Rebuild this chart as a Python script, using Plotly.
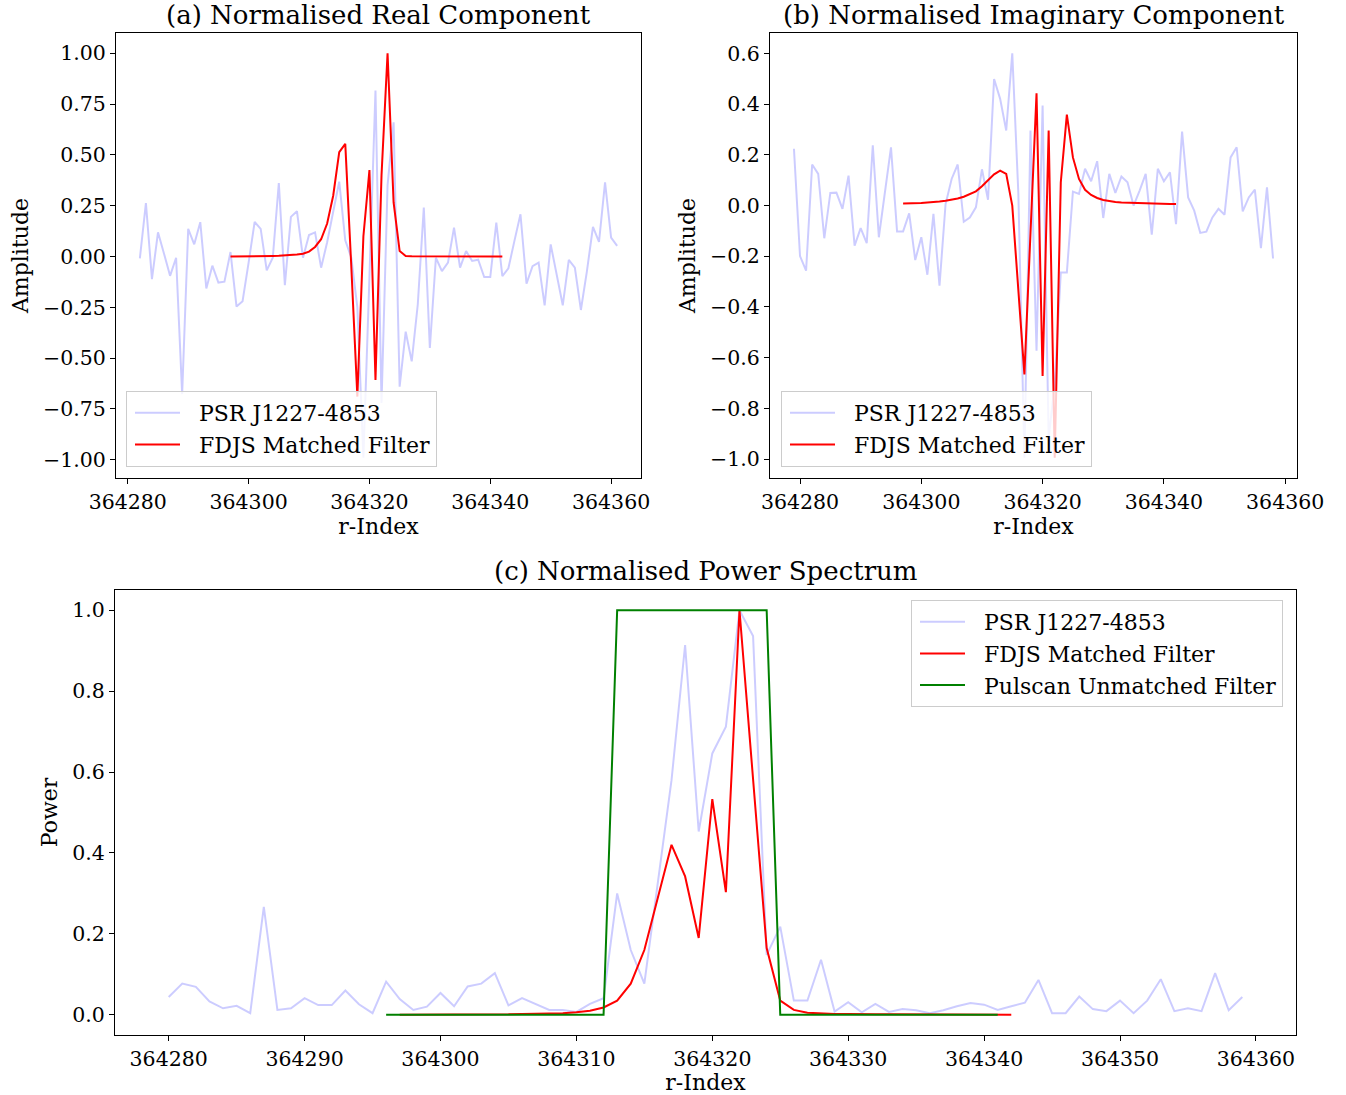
import plotly.graph_objects as go

# ---------------- data ----------------
# (a) real component
a_blue_start = 364282
a_blue = [-0.009, 0.263, -0.111, 0.119, 0.014, -0.095, -0.006, -0.677, 0.136, 0.060,
          0.169, -0.157, -0.045, -0.128, -0.124, 0.022, -0.246, -0.220, -0.030, 0.170,
          0.136, -0.068, -0.006, 0.361, -0.141, 0.195, 0.223, -0.006, 0.106, 0.119,
          -0.055, 0.070, 0.220, 0.368, 0.080, -0.006, -0.250, -0.990, -0.100, 0.817,
          -0.720, 0.350, 0.660, -0.640, -0.370, -0.516, -0.236, 0.241, -0.450, -0.006,
          -0.072, -0.030, 0.142, -0.055, 0.027, -0.022, -0.016, -0.101, -0.101, 0.167,
          -0.096, -0.058, 0.077, 0.208, -0.133, -0.047, -0.030, -0.240, 0.060, -0.088,
          -0.240, -0.016, -0.055, -0.263, -0.072, 0.146, 0.072, 0.365, 0.093, 0.052]
a_red_start = 364297
a_red = [0.000, 0.000, 0.001, 0.001, 0.001, 0.002, 0.002, 0.003, 0.004, 0.005,
         0.007, 0.010, 0.014, 0.024, 0.047, 0.085, 0.162, 0.299, 0.513, 0.554,
         -0.050, -0.689, 0.100, 0.425, -0.607, 0.400, 1.000, 0.266, 0.027, 0.003,
         0.001, 0.001, 0.000, 0.000, 0.000, 0.000, 0.000, 0.000, 0.000, 0.000,
         0.000, 0.000, 0.000, 0.000, 0.000, 0.000]

# (b) imaginary component
b_blue_start = 364279
b_blue = [0.224, -0.199, -0.257, 0.162, 0.125, -0.129, 0.050, 0.051, -0.013, 0.118,
          -0.158, -0.089, -0.148, 0.238, -0.125, 0.050, 0.230, -0.102, -0.102, -0.031,
          -0.215, -0.125, -0.273, -0.033, -0.316, 0.006, 0.105, 0.162, -0.064, -0.047,
          -0.007, 0.143, 0.023, 0.499, 0.421, 0.296, 0.601, 0.050, -0.995, 0.296,
          -0.573, 0.395, -0.920, -0.700, -0.264, -0.264, 0.055, 0.046, 0.145, 0.096,
          0.175, -0.049, 0.125, 0.050, 0.115, 0.092, 0.000, 0.059, 0.125, -0.115,
          0.145, 0.096, 0.131, -0.073, 0.292, 0.032, -0.020, -0.108, -0.103, -0.047,
          -0.013, -0.036, 0.190, 0.230, -0.023, 0.032, 0.063, -0.168, 0.072, -0.209]
b_red_start = 364297
b_red = [0.008, 0.008, 0.009, 0.010, 0.012, 0.013, 0.016, 0.019, 0.023, 0.028,
         0.035, 0.044, 0.056, 0.076, 0.100, 0.123, 0.138, 0.125, 0.000, -0.330,
         -0.666, -0.110, 0.443, -0.672, 0.296, -0.995, 0.092, 0.359, 0.190, 0.105,
         0.062, 0.042, 0.030, 0.022, 0.017, 0.014, 0.012, 0.011, 0.010, 0.009,
         0.008, 0.008, 0.007, 0.007, 0.006, 0.006]

# (c) power spectrum
c_blue_start = 364280
c_blue = [0.044, 0.077, 0.069, 0.033, 0.016, 0.022, 0.004, 0.267, 0.012, 0.016,
          0.041, 0.024, 0.024, 0.060, 0.026, 0.004, 0.082, 0.039, 0.012, 0.020,
          0.054, 0.021, 0.070, 0.077, 0.103, 0.023, 0.041, 0.027, 0.012, 0.012,
          0.007, 0.027, 0.041, 0.300, 0.160, 0.077, 0.330, 0.580, 0.914, 0.453,
          0.646, 0.712, 1.000, 0.936, 0.148, 0.218, 0.035, 0.035, 0.136, 0.008,
          0.031, 0.006, 0.027, 0.007, 0.014, 0.011, 0.004, 0.011, 0.021, 0.029,
          0.025, 0.012, 0.021, 0.030, 0.086, 0.004, 0.004, 0.045, 0.014, 0.009,
          0.035, 0.004, 0.035, 0.088, 0.009, 0.016, 0.009, 0.103, 0.011, 0.044]
c_red_start = 364297
c_red = [0.000, 0.000, 0.000, 0.000, 0.000, 0.000, 0.001, 0.001, 0.001, 0.002,
         0.002, 0.003, 0.004, 0.006, 0.010, 0.018, 0.035, 0.077, 0.160, 0.290,
         0.420, 0.342, 0.190, 0.533, 0.303, 1.000, 0.580, 0.165, 0.035, 0.012,
         0.005, 0.003, 0.002, 0.002, 0.001, 0.001, 0.001, 0.001, 0.000, 0.000,
         0.000, 0.000, 0.000, 0.000, 0.000, 0.000]
c_green_start = 364296
c_green = [0] * 17 + [1] * 12 + [0] * 17

names = ["PSR J1227-4853", "FDJS Matched Filter", "Pulscan Unmatched Filter"]
titles = ["(a) Normalised Real Component", "(b) Normalised Imaginary Component",
          "(c) Normalised Power Spectrum"]

# ---------------- styling ----------------
FONT = "DejaVu Serif"
BLUE = "rgba(0,0,255,0.2)"
RED = "#ff0000"
GREEN = "#008000"
W, H = 1346, 1095
GAP = "\u00a0\u00a0"   # extra spacing between legend handle and label


def xs(start, vals):
    return list(range(start, start + len(vals)))


fig = go.Figure()


def add(start, vals, color, name, xa, ya, legend):
    fig.add_trace(go.Scatter(x=xs(start, vals), y=vals, mode="lines",
                             line=dict(color=color, width=2), name=GAP + name,
                             xaxis=xa, yaxis=ya, legend=legend))


add(a_blue_start, a_blue, BLUE, names[0], "x", "y", "legend")
add(a_red_start, a_red, RED, names[1], "x", "y", "legend")
add(b_blue_start, b_blue, BLUE, names[0], "x2", "y2", "legend2")
add(b_red_start, b_red, RED, names[1], "x2", "y2", "legend2")
add(c_blue_start, c_blue, BLUE, names[0], "x3", "y3", "legend3")
add(c_red_start, c_red, RED, names[1], "x3", "y3", "legend3")
add(c_green_start, c_green, GREEN, names[2], "x3", "y3", "legend3")


def px_x(p):
    return p / W


def px_y(p):
    return (H - p) / H


axis_common = dict(showline=True, mirror=True, linecolor="black", linewidth=1,
                   ticks="outside", ticklen=5, tickwidth=1, tickcolor="black",
                   showgrid=False, zeroline=False, automargin=False,
                   tickfont=dict(family=FONT, size=20.5, color="black"))
title_font = dict(family=FONT, size=22, color="black")


def span(vals, start, pad=0.05):
    lo, hi = start, start + len(vals) - 1
    d = (hi - lo) * pad
    return [lo - d, hi + d]


def yspan(vals, pad=0.05):
    lo, hi = min(vals), max(vals)
    d = (hi - lo) * pad
    return [lo - d, hi + d]


fig.update_layout(
    width=W, height=H, autosize=False,
    margin=dict(l=0, r=0, t=0, b=0),
    paper_bgcolor="white", plot_bgcolor="white",
    font=dict(family=FONT, color="black"),
    xaxis=dict(domain=[px_x(116), px_x(641)], anchor="y",
               range=span(a_blue, a_blue_start), tickmode="linear", tick0=364280, dtick=20,
               tickformat="d", title=dict(text="r-Index", font=title_font, standoff=2),
               **axis_common),
    yaxis=dict(domain=[px_y(478), px_y(33)], anchor="x",
               range=yspan(a_blue + a_red), tickmode="linear", tick0=0, dtick=0.25,
               tickformat=".2f", title=dict(text="Amplitude", font=title_font, standoff=8),
               **axis_common),
    xaxis2=dict(domain=[px_x(770), px_x(1297)], anchor="y2",
                range=span(b_blue, b_blue_start), tickmode="linear", tick0=364280, dtick=20,
                tickformat="d", title=dict(text="r-Index", font=title_font, standoff=2),
                **axis_common),
    yaxis2=dict(domain=[px_y(478), px_y(33)], anchor="x2",
                range=yspan(b_blue + b_red), tickmode="linear", tick0=0, dtick=0.2,
                tickformat=".1f", title=dict(text="Amplitude", font=title_font, standoff=8),
                **axis_common),
    xaxis3=dict(domain=[px_x(115), px_x(1296)], anchor="y3",
                range=span(c_blue, c_blue_start), tickmode="linear", tick0=364280, dtick=10,
                tickformat="d", title=dict(text="r-Index", font=title_font, standoff=2),
                **axis_common),
    yaxis3=dict(domain=[px_y(1035), px_y(590)], anchor="x3",
                range=yspan(c_blue + c_red + c_green), tickmode="linear", tick0=0, dtick=0.2,
                tickformat=".1f", title=dict(text="Power", font=title_font, standoff=8),
                **axis_common),
)

leg_common = dict(bgcolor="rgba(255,255,255,0.8)", bordercolor="#cccccc", borderwidth=1,
                  itemwidth=45, indentation=3,
                  font=dict(family=FONT, size=22, color="black"))
fig.update_layout(
    legend=dict(x=px_x(126), y=px_y(467), xanchor="left", yanchor="bottom", **leg_common),
    legend2=dict(x=px_x(781), y=px_y(467), xanchor="left", yanchor="bottom", **leg_common),
    legend3=dict(x=px_x(1283), y=px_y(600), xanchor="right", yanchor="top", **leg_common),
)

# subplot titles
title_pos = [((116 + 641) / 2, 15), ((770 + 1297) / 2, 15), ((115 + 1296) / 2, 571)]
for t, (cx, cy) in zip(titles, title_pos):
    fig.add_annotation(text=t, x=px_x(cx), y=px_y(cy), xref="paper", yref="paper",
                       xanchor="center", yanchor="middle", showarrow=False,
                       font=dict(family=FONT, size=26, color="black"))

fig.write_html("out.html")
